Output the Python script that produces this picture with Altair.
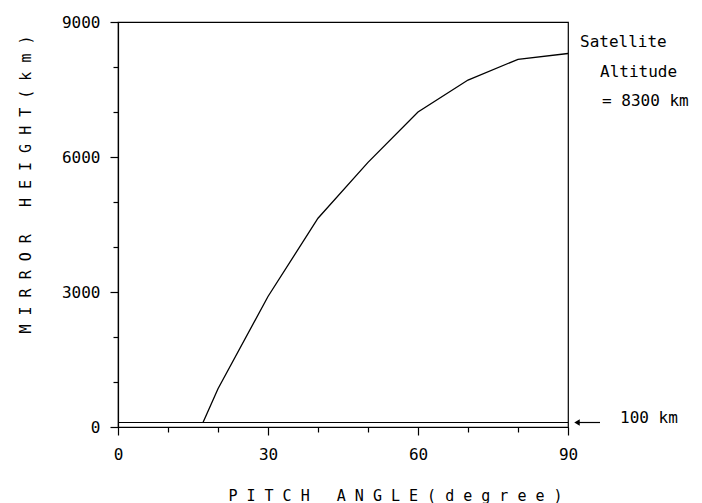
import altair as alt
import pandas as pd

# ---- data ----
PITCH = [17, 20, 30, 40, 50, 60, 70, 80, 90]
HEIGHT = [100, 850, 2900, 4640, 5880, 7000, 7710, 8170, 8300]

X_TICKS = [0, 10, 20, 30, 40, 50, 60, 70, 80, 90]
X_LABELED = [0, 30, 60, 90]
Y_TICKS = [0, 1000, 2000, 3000, 4000, 5000, 6000, 7000, 8000, 9000]
Y_LABELED = [0, 3000, 6000, 9000]

BASE_LEVEL = 100
ANNOT_TEXT = ["Satellite", "Altitude", "= 8300 km"]
ANNOT_X = [92.4, 96.4, 96.8]
ANNOT_Y = [8555, 7890, 7244]
BASE_TEXT = ["100 km"]

X_TITLE = "PITCH ANGLE(degree)"
Y_TITLE = "MIRROR HEIGHT(km)"

FONT = "DejaVu Sans Mono"
NB = "\u00a0"


def spaced(s):
    # letter-spaced plotter style, non-breaking spaces so SVG keeps them
    return NB.join(NB if c == " " else c for c in s)


curve = pd.DataFrame({"pitch": PITCH, "height": HEIGHT})
base = pd.DataFrame({"x0": [0], "x1": [90], "y": [BASE_LEVEL]})
annot = pd.DataFrame({"text": ANNOT_TEXT, "x": ANNOT_X, "y": ANNOT_Y})
arrow = pd.DataFrame({"x0": [91.8], "x1": [96.4], "y": [BASE_LEVEL]})
base_lab = pd.DataFrame({"text": BASE_TEXT, "x": [100.4], "y": [BASE_LEVEL + 100]})

x_scale = alt.Scale(domain=[0, 90], nice=False, zero=False)
y_scale = alt.Scale(domain=[0, 9000], nice=False, zero=False)

x_axis = alt.Axis(
    values=X_TICKS,
    format="d",
    labelExpr=f"indexof({X_LABELED}, datum.value) >= 0 ? datum.label : ''",
    tickSize={"condition": {"test": f"indexof({X_LABELED}, datum.value) >= 0", "value": 8}, "value": 5},
    labelPadding=11,
    labelFlush=False,
    labelOverlap=False,
    labelFontSize=16,
    grid=False,
    title=spaced(X_TITLE),
    titleX=277,
    titleY=73,
    titleAlign="center",
    titleBaseline="alphabetic",
    titleFontSize=15,
)
y_axis = alt.Axis(
    values=Y_TICKS,
    format="d",
    labelExpr=f"indexof({Y_LABELED}, datum.value) >= 0 ? datum.label : ''",
    tickSize={"condition": {"test": f"indexof({Y_LABELED}, datum.value) >= 0", "value": 8}, "value": 5},
    labelPadding=10,
    labelFlush=False,
    labelOverlap=False,
    labelFontSize=16,
    grid=False,
    title=spaced(Y_TITLE),
    titleX=-88,
    titleY=162,
    titleAngle=-90,
    titleAlign="center",
    titleBaseline="alphabetic",
    titleFontSize=15,
)

line = alt.Chart(curve).mark_line(color="black", strokeWidth=1.3).encode(
    x=alt.X("pitch:Q", scale=x_scale, axis=x_axis),
    y=alt.Y("height:Q", scale=y_scale, axis=y_axis),
)

base_rule = alt.Chart(base).mark_rule(color="black", strokeWidth=1.2).encode(
    x=alt.X("x0:Q", scale=x_scale), x2="x1:Q", y=alt.Y("y:Q", scale=y_scale)
)

annot_text = alt.Chart(annot).mark_text(
    font=FONT, fontSize=16, align="left", baseline="middle", color="black"
).encode(x=alt.X("x:Q", scale=x_scale), y=alt.Y("y:Q", scale=y_scale), text="text:N")

arrow_rule = alt.Chart(arrow).mark_rule(color="black", strokeWidth=1.2).encode(
    x=alt.X("x0:Q", scale=x_scale), x2="x1:Q", y=alt.Y("y:Q", scale=y_scale)
)
arrow_head = alt.Chart(arrow).mark_point(
    shape="triangle-left", filled=True, color="black", size=40, opacity=1
).encode(x=alt.X("x0:Q", scale=x_scale), y=alt.Y("y:Q", scale=y_scale))

base_text = alt.Chart(base_lab).mark_text(
    font=FONT, fontSize=16, align="left", baseline="middle", color="black"
).encode(x=alt.X("x:Q", scale=x_scale), y=alt.Y("y:Q", scale=y_scale), text="text:N")

chart = alt.layer(line, base_rule, annot_text, arrow_rule, arrow_head, base_text).properties(
    width=450,
    height=405,
    autosize=alt.AutoSizeParams(type="none"),
    padding={"left": 118, "top": 22, "right": 134, "bottom": 76},
    background="white",
).configure_view(
    stroke="black", strokeWidth=1.2
).configure_axis(
    domainColor="black",
    domainWidth=1.2,
    tickColor="black",
    tickWidth=1.2,
    labelColor="black",
    titleColor="black",
    labelFont=FONT,
    titleFont=FONT,
    titleFontWeight="normal",
)

chart.save("out.html", embed_options={"renderer": "svg", "actions": False})
